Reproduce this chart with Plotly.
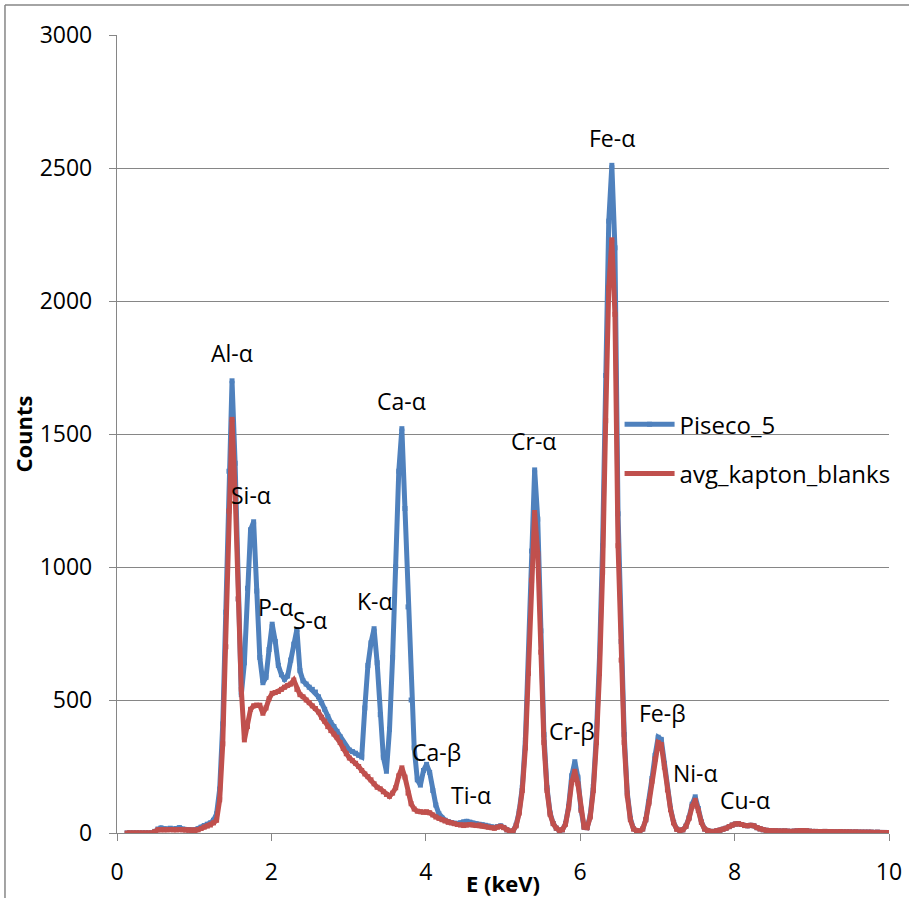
import plotly.graph_objects as go

energy_kev = [
    0.13, 0.17, 0.21, 0.25, 0.29, 0.33, 0.37, 0.41, 0.45, 0.49,
    0.53, 0.57, 0.61, 0.65, 0.69, 0.73, 0.77, 0.81, 0.85, 0.89,
    0.93, 0.97, 1.01, 1.05, 1.09, 1.13, 1.17, 1.21, 1.25, 1.29,
    1.33, 1.37, 1.41, 1.45, 1.49, 1.53, 1.57, 1.61, 1.65, 1.69,
    1.73, 1.77, 1.81, 1.85, 1.89, 1.93, 1.97, 2.01, 2.05, 2.09,
    2.13, 2.17, 2.21, 2.25, 2.29, 2.33, 2.37, 2.41, 2.45, 2.49,
    2.53, 2.57, 2.61, 2.65, 2.69, 2.73, 2.77, 2.81, 2.85, 2.89,
    2.93, 2.97, 3.01, 3.05, 3.09, 3.13, 3.17, 3.21, 3.25, 3.29,
    3.33, 3.37, 3.41, 3.45, 3.49, 3.53, 3.57, 3.61, 3.65, 3.69,
    3.73, 3.77, 3.81, 3.85, 3.89, 3.93, 3.97, 4.01, 4.05, 4.09,
    4.13, 4.17, 4.21, 4.25, 4.29, 4.33, 4.37, 4.41, 4.45, 4.49,
    4.53, 4.57, 4.61, 4.65, 4.69, 4.73, 4.77, 4.81, 4.85, 4.89,
    4.93, 4.97, 5.01, 5.05, 5.09, 5.13, 5.17, 5.21, 5.25, 5.29,
    5.33, 5.37, 5.41, 5.45, 5.49, 5.53, 5.57, 5.61, 5.65, 5.69,
    5.73, 5.77, 5.81, 5.85, 5.89, 5.93, 5.97, 6.01, 6.05, 6.09,
    6.13, 6.17, 6.21, 6.25, 6.29, 6.33, 6.37, 6.41, 6.45, 6.49,
    6.53, 6.57, 6.61, 6.65, 6.69, 6.73, 6.77, 6.81, 6.85, 6.89,
    6.93, 6.97, 7.01, 7.05, 7.09, 7.13, 7.17, 7.21, 7.25, 7.29,
    7.33, 7.37, 7.41, 7.45, 7.49, 7.53, 7.57, 7.61, 7.65, 7.69,
    7.73, 7.77, 7.81, 7.85, 7.89, 7.93, 7.97, 8.01, 8.05, 8.09,
    8.13, 8.17, 8.21, 8.25, 8.29, 8.33, 8.37, 8.41, 8.45, 8.49,
    8.53, 8.57, 8.61, 8.65, 8.69, 8.73, 8.77, 8.81, 8.85, 8.89,
    8.93, 8.97, 9.01, 9.05, 9.09, 9.13, 9.17, 9.21, 9.25, 9.29,
    9.33, 9.37, 9.41, 9.45, 9.49, 9.53, 9.57, 9.61, 9.65, 9.69,
    9.73, 9.77, 9.81, 9.85, 9.89, 9.93, 9.97, 10.01,
]

piseco_5 = [
    0, 0, 0, 0, 0, 0, 0, 0, 0, 6,
    15, 19, 16, 15, 18, 15, 17, 20, 15, 13,
    12, 11, 12, 16, 22, 28, 33, 38, 48, 72,
    165, 410, 830, 1360, 1700, 1390, 880, 520, 640, 920,
    1140, 1170, 910, 660, 565, 585, 690, 785, 720, 630,
    595, 578, 590, 650, 710, 765, 610, 572, 560, 548,
    540, 530, 512, 490, 465, 438, 415, 400, 382, 362,
    340, 322, 312, 306, 300, 292, 286, 470, 630, 715,
    768, 640, 445, 285, 232, 390, 660, 1000, 1360, 1520,
    1220, 850, 500, 320, 200, 180, 235, 258, 228, 160,
    105, 72, 56, 48, 43, 39, 37, 36, 38, 42,
    44, 41, 37, 34, 33, 31, 29, 26, 23, 21,
    24, 27, 21, 12, 6, 8, 30, 82, 172, 350,
    660, 1060, 1365, 1180, 760, 370, 170, 75, 36, 18,
    10, 12, 35, 100, 215, 268, 210, 90, 22, 20,
    65, 175, 370, 660, 1080, 1720, 2300, 2510, 2200, 1200,
    720, 370, 150, 55, 16, 8, 6, 15, 50, 118,
    205, 292, 360, 352, 262, 170, 92, 40, 15, 10,
    12, 26, 58, 108, 136, 92, 42, 15, 8, 6,
    6, 8, 10, 14, 18, 24, 30, 34, 35, 32,
    28, 27, 29, 27, 20, 15, 12, 10, 9, 8,
    8, 7, 7, 8, 7, 6, 7, 8, 9, 9,
    8, 7, 6, 6, 5, 5, 6, 5, 5, 4,
    4, 5, 4, 4, 4, 3, 4, 3, 3, 3,
    3, 3, 2, 3, 2, 2, 2, 2,
]

avg_kapton_blanks = [
    0, 0, 0, 0, 0, 0, 0, 0, 0, 5,
    12, 12, 12, 12, 13, 12, 12, 13, 12, 11,
    10, 9, 9, 12, 17, 22, 26, 30, 38, 48,
    125, 335, 700, 1210, 1555, 1280, 880, 540, 350, 400,
    465, 478, 481, 480, 450, 470, 505, 525, 528, 532,
    540, 548, 555, 560, 575, 540, 520, 512, 500, 490,
    478, 468, 455, 435, 420, 400, 385, 372, 360, 340,
    318, 298, 282, 272, 262, 250, 235, 222, 212, 200,
    185, 172, 166, 155, 145, 138, 150, 170, 215, 245,
    210, 150, 110, 90, 82, 80, 78, 80, 76, 68,
    60, 55, 50, 45, 40, 38, 35, 32, 30, 28,
    30, 32, 30, 28, 30, 27, 25, 22, 20, 18,
    22, 25, 20, 12, 6, 8, 27, 75, 160, 320,
    600, 950, 1205, 1050, 680, 340, 160, 70, 35, 18,
    10, 12, 33, 95, 190, 232, 185, 85, 22, 20,
    60, 160, 340, 600, 980, 1550, 2050, 2230, 1950, 1080,
    650, 340, 140, 50, 15, 8, 6, 15, 50, 112,
    195, 278, 340, 333, 248, 162, 88, 38, 14, 10,
    12, 25, 55, 100, 123, 85, 40, 15, 8, 6,
    6, 8, 10, 14, 18, 24, 30, 34, 35, 32,
    28, 27, 29, 27, 20, 15, 12, 10, 9, 8,
    8, 7, 7, 8, 7, 6, 7, 8, 9, 9,
    8, 7, 6, 6, 5, 5, 6, 5, 5, 4,
    4, 5, 4, 4, 4, 3, 4, 3, 3, 3,
    3, 3, 2, 3, 2, 2, 2, 2,
]

peak_labels = ["Al-α", "Si-α", "P-α", "S-α", "K-α", "Ca-α", "Ca-β", "Ti-α",
               "Cr-α", "Cr-β", "Fe-α", "Fe-β", "Ni-α", "Cu-α"]
peak_label_x = [1.49, 1.74, 2.05, 2.50, 3.34, 3.69, 4.14, 4.59,
                5.40, 5.89, 6.41, 7.06, 7.49, 8.13]
peak_label_y = [1805, 1272, 850, 800, 872, 1623, 305, 143,
                1472, 382, 2614, 450, 224, 123]

FONT = "Open Sans"
BLUE = "#4F81BD"
RED = "#C0504D"
GRID = "#868686"

fig = go.Figure()
fig.add_trace(go.Scatter(
    x=energy_kev, y=piseco_5, name="Piseco_5", mode="lines+markers",
    line=dict(color=BLUE, width=5),
    marker=dict(symbol="square", size=5, color=BLUE),
    legendgroup="a",
))
fig.add_trace(go.Scatter(
    x=energy_kev, y=avg_kapton_blanks, name="avg_kapton_blanks", mode="lines+markers",
    line=dict(color=RED, width=5),
    marker=dict(symbol="square", size=5, color=RED),
    legendgroup="b",
))

for t, xv, yv in zip(peak_labels, peak_label_x, peak_label_y):
    fig.add_annotation(x=xv, y=yv, text=t, showarrow=False,
                       font=dict(family=FONT, size=23, color="black"),
                       xanchor="center", yanchor="middle")

# chart-area border (top and left edges visible in the picture)
fig.add_shape(type="line", xref="paper", yref="paper",
              x0=-0.1451, x1=1.05, y0=1.0376, y1=1.0376,
              line=dict(color=GRID, width=1.5))
fig.add_shape(type="line", xref="paper", yref="paper",
              x0=-0.1451, x1=-0.1451, y0=1.0376, y1=-0.1,
              line=dict(color=GRID, width=1.5))

fig.update_layout(
    width=909, height=898,
    margin=dict(l=117, r=20, t=35, b=65, autoexpand=False),
    paper_bgcolor="white", plot_bgcolor="white",
    font=dict(family=FONT, size=23, color="black"),
    showlegend=True,
    legend=dict(x=0.651, y=0.54, xanchor="left", yanchor="top",
                bgcolor="rgba(0,0,0,0)", borderwidth=0,
                font=dict(family=FONT, size=24, color="black"),
                itemwidth=50,
                traceorder="grouped", tracegroupgap=15),
    xaxis=dict(range=[0, 10], dtick=2, tick0=0, showgrid=False, zeroline=False,
               showline=True, linecolor=GRID, linewidth=1.3,
               ticks="outside", ticklen=7, tickcolor=GRID, tickwidth=1.3,
               ticklabelstandoff=11,
               tickfont=dict(family=FONT, size=23, color="black"),
               title=dict(text="<b>E (keV)</b>", standoff=0,
                          font=dict(family=FONT, size=22, color="black"))),
    yaxis=dict(range=[0, 3000], dtick=500, tick0=0, showgrid=True,
               gridcolor=GRID, gridwidth=1.3, zeroline=False,
               showline=True, linecolor=GRID, linewidth=1.3,
               ticks="outside", ticklen=7, tickcolor=GRID, tickwidth=1.3,
               ticklabelstandoff=12,
               tickfont=dict(family=FONT, size=23, color="black"),
               title=dict(text="<b>Counts</b>", standoff=0,
                          font=dict(family=FONT, size=22, color="black"))),
)

fig.write_html("out.html")
